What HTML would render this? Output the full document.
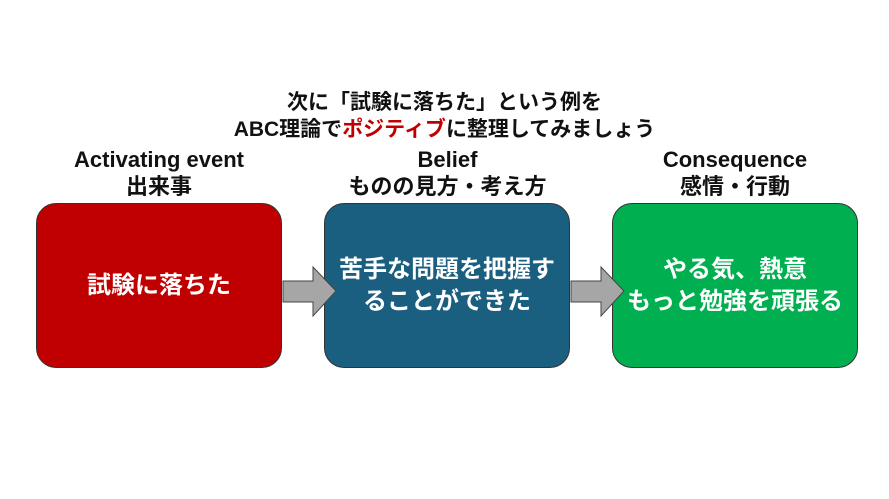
<html><head><style>
body{margin:0;width:889px;height:499px;background:#fff;position:relative;font-family:"Liberation Sans","Noto Sans CJK JP",sans-serif;font-weight:bold;overflow:hidden}
.t{position:absolute;text-align:center;color:#111;font-size:21px;line-height:27px;white-space:nowrap}
.box{position:absolute;top:203px;width:246px;height:165px;border:1px solid #333;border-radius:20px;box-sizing:border-box;display:flex;align-items:center;justify-content:center;text-align:center;color:#fff;font-size:24px;line-height:32px;white-space:nowrap}
</style></head><body>
<div class="t" style="left:0;width:889px;top:89px">次に「試験に落ちた」という例を<br>ABC理論で<span style="color:#c00000">ポジティブ</span>に整理してみましょう</div>
<div class="t" style="left:36px;width:246px;top:146px;font-size:22px">Activating event<br>出来事</div>
<div class="t" style="left:324px;width:247px;top:146px;font-size:22px">Belief<br>ものの見方・考え方</div>
<div class="t" style="left:612px;width:246px;top:146px;font-size:22px">Consequence<br>感情・行動</div>
<div class="box" style="left:36px;background:#c00000">試験に落ちた</div>
<div class="box" style="left:324px;background:#1a5f80">苦手な問題を把握す<br>ることができた</div>
<div class="box" style="left:612px;background:#00b050">やる気、熱意<br>もっと勉強を頑張る</div>
<svg style="position:absolute;left:0;top:0" width="889" height="499">
<polygon points="283,281 313,281 313,267 336,291 313,316 313,302 283,302" fill="#a6a6a6" stroke="#444" stroke-width="1"/>
<polygon points="571,281 601,281 601,267 624,291 601,316 601,302 571,302" fill="#a6a6a6" stroke="#444" stroke-width="1"/>
</svg>
</body></html>
